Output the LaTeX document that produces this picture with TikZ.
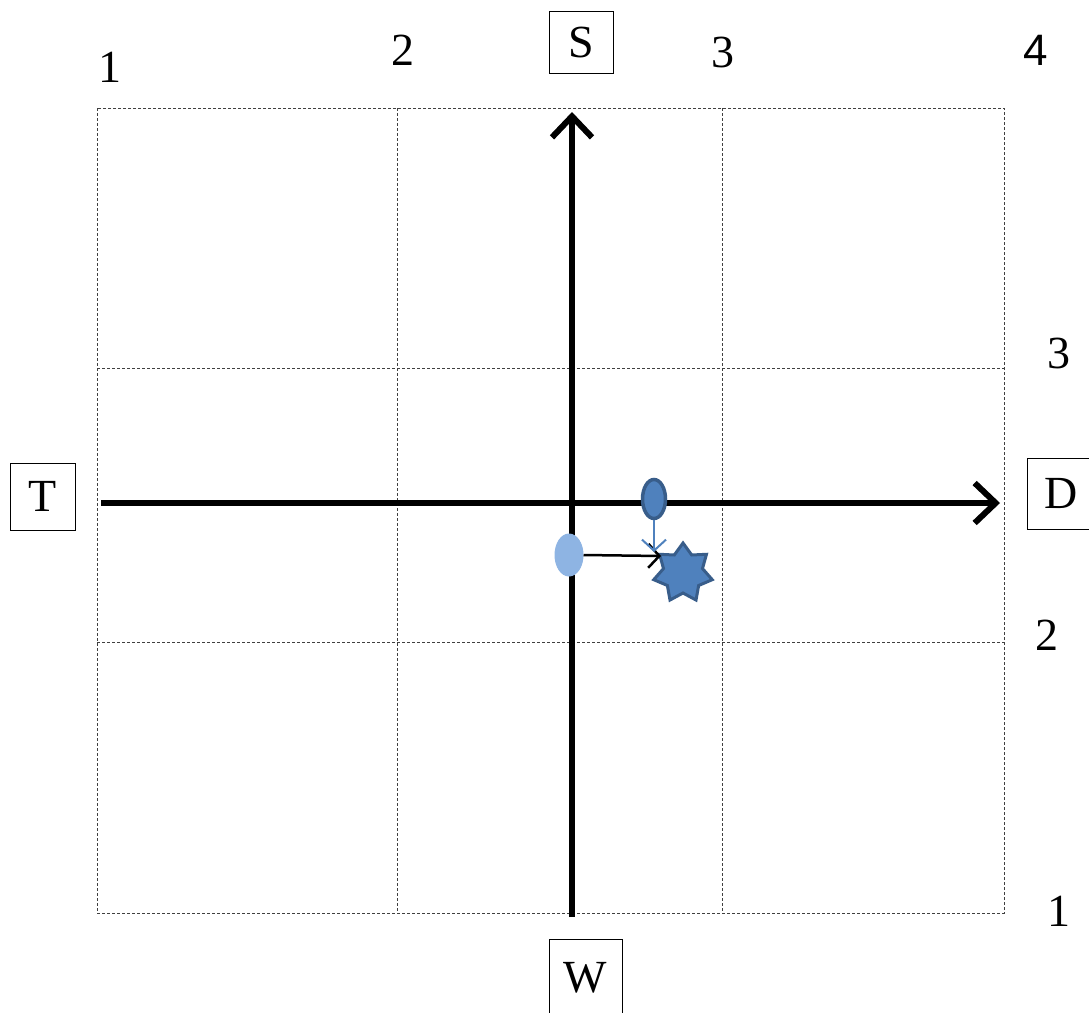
\documentclass[tikz,border=0pt]{standalone}
\usepackage{fontspec}
\setmainfont{Liberation Serif}
\newfontfamily\numsans{Liberation Sans}
\usetikzlibrary{arrows.meta,shapes.geometric}
\definecolor{accent}{HTML}{4F81BD}
\definecolor{accentdark}{HTML}{385D8A}
\definecolor{accentlight}{HTML}{8EB4E3}
\tikzset{
  gridline/.style={line width=1pt, draw=black!75, dash pattern=on 3pt off 2pt},
  axisline/.style={line width=6pt, -{Straight Barb[length=21pt, width=40pt]}},
  labelbox/.style={draw, line width=1pt, inner sep=0pt, font=\fontsize{46}{50}\selectfont},
  numlabel/.style={inner sep=0pt, font=\fontsize{46}{50}\selectfont},
  smallarrow/.style={line width=2.5pt, -{Straight Barb[length=11pt, width=24pt]}},
}
\begin{document}
\begin{tikzpicture}[x=1pt, y=-1pt]
\useasboundingbox (0,0) rectangle (1089,1012);
% grid
\draw[gridline] (97,108) rectangle (1004,913);
\draw[gridline] (397,108) -- (397,913);
\draw[gridline] (722,108) -- (722,913);
\draw[gridline] (97,368) -- (1004,368);
\draw[gridline] (97,642) -- (1004,642);
% axes
\coordinate (vbot) at (572,917);
\coordinate (vtop) at (572,112);
\coordinate (hleft) at (101,503);
\coordinate (hright) at (1000,503);
\draw[axisline] (vbot) -- (vtop);
\draw[axisline] (hleft) -- (hright);
% boxes
\node[labelbox, minimum width=65pt, minimum height=67pt] (T) at (42.5,496.5) {T};
\node[labelbox, minimum width=64pt, minimum height=62pt] (S) at (581,42) {S};
\node[labelbox, minimum width=68pt, minimum height=71pt] (D) at (1061,493.5) {D};
\node[labelbox, minimum width=73pt, minimum height=78pt] (W) at (585.5,978) {W};
% numbers
\node[numlabel] (n1) at (110,67) {1};
\node[numlabel] (n2) at (403,50) {2};
\node[numlabel] (n3) at (723,52) {3};
\node[numlabel, font=\fontsize{44}{48}\selectfont\numsans] (n4) at (1036,50) {4};
\node[numlabel] (r3) at (1059,353) {3};
\node[numlabel] (r2) at (1047,635) {2};
\node[numlabel] (r1) at (1059,911) {1};
% markers
\node[ellipse, fill=accentlight, draw=accentlight, line width=1pt, minimum width=28pt, minimum height=42pt, inner sep=0pt] (le) at (569,555) {};
\node[ellipse, fill=accent, draw=accentdark, line width=3.5pt, minimum width=23pt, minimum height=39pt, inner sep=0pt] (de) at (654,499) {};
\node[star, star points=7, star point ratio=1.5, fill=accent, draw=accentdark, line width=3pt, minimum size=60pt, inner sep=0pt] (st) at (683,573) {};
\coordinate (bend) at (661,556);
\coordinate (vend) at (654,552);
\draw[smallarrow, black] (le.east) -- (bend);
\draw[smallarrow, accent, line width=2pt] (de.south) -- (vend);
\end{tikzpicture}
\end{document}
